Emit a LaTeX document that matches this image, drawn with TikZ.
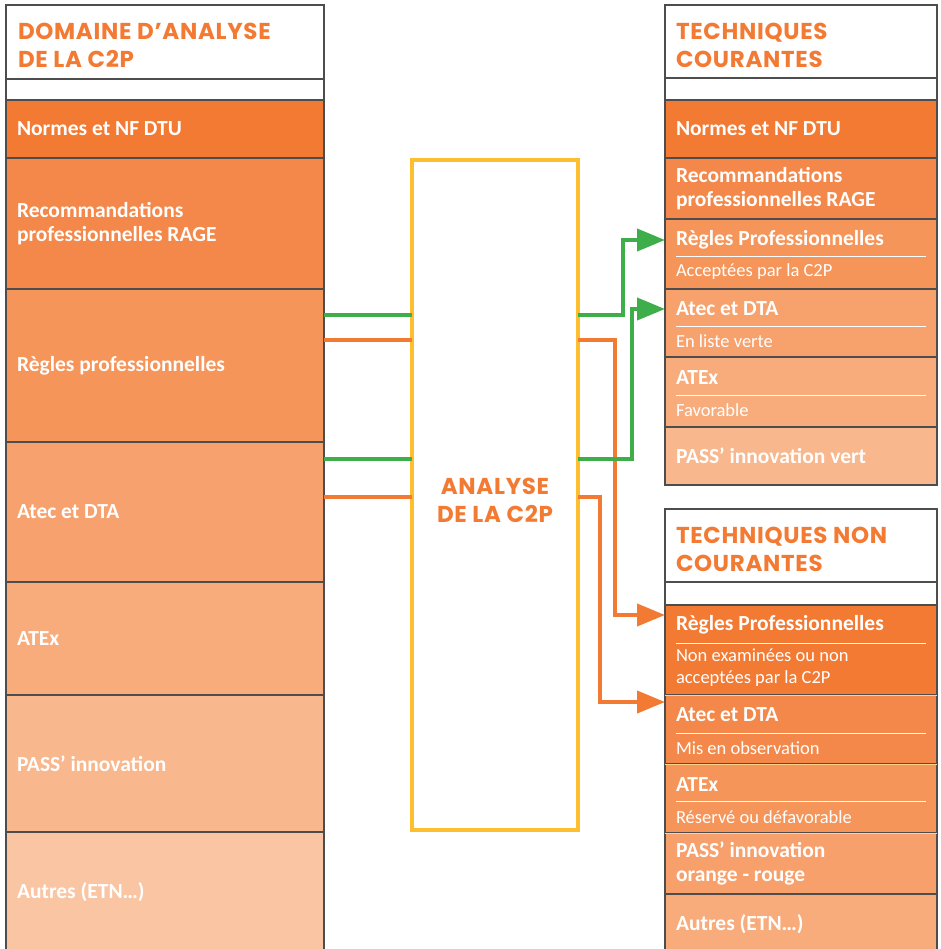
\documentclass[tikz,border=0pt]{standalone}
\usepackage{fontspec}
\setmainfont{Carlito}
\newfontfamily\titlefont{Poppins}[LetterSpace=3]
\usetikzlibrary{arrows.meta}
\usetikzlibrary{positioning}

\definecolor{rowline}{HTML}{4D4D4D}
\definecolor{softline}{HTML}{FBD38A}
\definecolor{orA}{HTML}{F37A33}
\definecolor{orB}{HTML}{F4884A}
\definecolor{orC}{HTML}{F5955A}
\definecolor{orD}{HTML}{F7A26E}
\definecolor{orE}{HTML}{F8AC7B}
\definecolor{orF}{HTML}{F9B78D}
\definecolor{orG}{HTML}{FAC5A2}
\definecolor{grn}{HTML}{3DAE49}
\definecolor{ylw}{HTML}{FDBE30}

\begin{document}
\begin{tikzpicture}[x=1pt,y=-1pt,node distance=0pt,outer sep=0pt,inner sep=0pt]

	\tikzset{row/.style={shape=rectangle,draw=rowline,line width=1.2pt,
		text width=296pt,inner xsep=11pt,align=flush left,text=white,
		font=\bfseries\fontsize{21.5}{24}\selectfont}}
	\tikzset{rrow/.style={row,text width=250pt}}
	\tikzset{titlerow/.style={row,fill=white}}
	\tikzset{titletext/.style={anchor=west,align=flush left,text=orA,
		font=\titlefont\bfseries\fontsize{23}{28}\selectfont}}
	\tikzset{head/.style={anchor=west,text=white,font=\bfseries\fontsize{21.5}{22}\selectfont}}
	\tikzset{sub/.style={anchor=west,align=flush left,text=white,font=\fontsize{18.5}{22}\selectfont}}
	\tikzset{sepline/.style={draw=white,line width=1pt}}
	\tikzset{gline/.style={draw=grn,line width=4pt}}
	\tikzset{oline/.style={draw=orA,line width=4pt}}
	\tikzset{tip/.style={-{Triangle[length=28pt,width=22pt]}}}

	\useasboundingbox (0,0) rectangle (940,949);

	% Domaine d'analyse, one row below another.
	\node (ltitle) [titlerow,anchor=north west,minimum height=74pt] at (6,5) {};
	\node (ltitletext) [titletext] at (18,45) {DOMAINE D’ANALYSE\\DE LA C2P};
	\node (lblank) [row,fill=white,minimum height=21pt,below=of ltitle] {};
	\node (lnormes) [row,fill=orA,minimum height=58pt,below=of lblank] {Normes et NF DTU};
	\node (lreco) [row,fill=orB,minimum height=131pt,below=of lnormes] {Recommandations\\professionnelles RAGE};
	\node (lregles) [row,fill=orC,minimum height=153pt,below=of lreco] {Règles professionnelles};
	\node (latec) [row,fill=orD,minimum height=140pt,below=of lregles] {Atec et DTA};
	\node (latex) [row,fill=orE,minimum height=113pt,below=of latec] {ATEx};
	\node (lpass) [row,fill=orF,minimum height=137pt,below=of latex] {PASS’ innovation};
	\node (lautres) [row,fill=orG,minimum height=120pt,below=of lpass] {Autres (ETN…)};

	% Techniques courantes.
	\node (rtitle) [titlerow,text width=250pt,anchor=north west,minimum height=73pt] at (665,5) {};
	\node (rtitletext) [titletext] at (676,45) {TECHNIQUES\\COURANTES};
	\node (rblank) [rrow,fill=white,minimum height=22pt,below=of rtitle] {};
	\node (rnormes) [rrow,fill=orA,minimum height=58pt,below=of rblank] {Normes et NF DTU};
	\node (rreco) [rrow,fill=orB,minimum height=61pt,below=of rnormes] {Recommandations\\professionnelles RAGE};
	\node (rregles) [rrow,fill=orC,minimum height=70pt,below=of rreco] {};
	\node (ratec) [rrow,fill=orD!90!orC,minimum height=68pt,below=of rregles] {};
	\node (ratex) [rrow,fill=orE,minimum height=70pt,below=of ratec] {};
	\node (rpass) [rrow,fill=orF,minimum height=58pt,below=of ratex] {PASS’ innovation vert};

	\node (rreglestitle) [head] at (676,240) {Règles Professionnelles};
	\draw [sepline] (676,257) -- (926,257);
	\node (rreglessub) [sub] at (676,272) {Acceptées par la C2P};
	\node (ratectitle) [head] at (676,309) {Atec et DTA};
	\draw [sepline] (676,326) -- (926,326);
	\node (ratecsub) [sub] at (676,341) {En liste verte};
	\node (ratextitle) [head] at (676,378) {ATEx};
	\draw [sepline] (676,395) -- (926,395);
	\node (ratexsub) [sub] at (676,410) {Favorable};

	% Techniques non courantes.
	\node (btitle) [titlerow,text width=250pt,anchor=north west,minimum height=73pt] at (665,509) {};
	\node (btitletext) [titletext] at (676,549) {TECHNIQUES NON\\COURANTES};
	\node (bblank) [rrow,fill=white,minimum height=23pt,below=of btitle] {};
	\node (bregles) [rrow,fill=orA,minimum height=90pt,below=of bblank] {};
	\node (batec) [rrow,fill=orB,minimum height=69pt,below=of bregles] {};
	\node (batex) [rrow,fill=orC,minimum height=69pt,below=of batec] {};
	\node (bpass) [rrow,fill=orD!85!orC,minimum height=61pt,below=of batex] {PASS’ innovation\\orange - rouge};
	\node (bautres) [rrow,fill=orE,minimum height=60pt,below=of bpass] {Autres (ETN…)};

	% Lighter lines between the orange rows.
	\draw [draw=softline,line width=1pt] (batec.north west) -- (batec.north east);
	\draw [draw=softline,line width=1pt] (batex.north west) -- (batex.north east);
	\draw [draw=softline,line width=1pt] (bpass.north west) -- (bpass.north east);

	\node (breglestitle) [head] at (676,625) {Règles Professionnelles};
	\draw [sepline] (676,643) -- (926,643);
	\node (breglessub) [sub] at (676,668) {Non examinées ou non\\acceptées par la C2P};
	\node (batectitle) [head] at (676,715) {Atec et DTA};
	\draw [sepline] (676,733) -- (926,733);
	\node (batecsub) [sub] at (676,748) {Mis en observation};
	\node (batextitle) [head] at (676,785) {ATEx};
	\draw [sepline] (676,801) -- (926,801);
	\node (batexsub) [sub] at (676,817) {Réservé ou défavorable};

	% Analyse in the middle.
	\node (analyse) [draw=ylw,line width=4.5pt,minimum width=166pt,minimum height=670pt] at (495,495) {};
	\node (analysetext) [titletext,anchor=center,align=center] at (495,500) {ANALYSE\\DE LA C2P};

	% Levels of the connectors.
	\coordinate (g1) at (0,315);
	\coordinate (o1) at (0,340);
	\coordinate (g2) at (0,459);
	\coordinate (o2) at (0,497);
	\coordinate (gx1) at (623,0);
	\coordinate (gx2) at (632,0);
	\coordinate (ox1) at (615,615);
	\coordinate (ox2) at (600,702);

	% Into the analysis.
	\draw [oline] (lregles.east |- o1) -- (analyse.west |- o1);
	\draw [oline] (latec.east |- o2) -- (analyse.west |- o2);
	\draw [gline] (lregles.east |- g1) -- (analyse.west |- g1);
	\draw [gline] (latec.east |- g2) -- (analyse.west |- g2);

	% Out of the analysis.
	\draw [oline,tip] (analyse.east |- o1) -| (ox1) -- (bregles.west |- ox1);
	\draw [oline,tip] (analyse.east |- o2) -| (ox2) -- (batec.west |- ox2);
	\draw [gline,tip] (analyse.east |- g1) -| (gx1 |- rreglestitle) -- (rregles.west |- rreglestitle);
	\draw [gline,tip] (analyse.east |- g2) -| (gx2 |- ratectitle) -- (ratec.west |- ratectitle);
\end{tikzpicture}
\end{document}
